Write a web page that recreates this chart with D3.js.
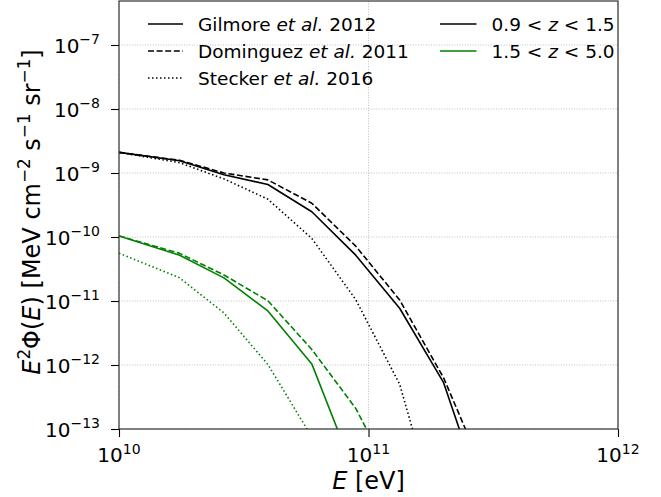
<!DOCTYPE html>
<html>
<head>
<meta charset="utf-8">
<script src="https://cdn.jsdelivr.net/npm/d3@7"></script>
<style>
  html, body { margin: 0; padding: 0; background: #fff; }
  svg { display: block; font-family: "DejaVu Sans", sans-serif; }
</style>
</head>
<body>
<svg id="chart" width="661" height="497"></svg>
<script>
// ---------------- data ----------------
const energies = [1e10, 1.75e10, 2.634e10, 3.951e10, 5.926e10, 8.889e10, 1.333e11, 2e11, 3e11];

const gilmoreLow    = [2.1e-9, 1.55e-9, 9.4e-10, 6.6e-10, 2.48e-10, 5.2e-11, 7.7e-12, 5.3e-13, 5e-15];
const dominguezLow  = [2.1e-9, 1.58e-9, 1.0e-9, 7.8e-10, 3.37e-10, 7.2e-11, 1.04e-11, 6.3e-13, 1.55e-14];
const steckerLow    = [2.1e-9, 1.45e-9, 8.1e-10, 3.9e-10, 9.5e-11, 1.05e-11, 5.0e-13, 2e-15];

const gilmoreHigh   = [1.04e-10, 5.2e-11, 2.3e-11, 7.0e-12, 1.04e-12, 1.85e-14];
const dominguezHigh = [1.04e-10, 5.55e-11, 2.55e-11, 1.01e-11, 1.75e-12, 2.1e-13, 1e-14];
const steckerHigh   = [5.6e-11, 2.3e-11, 6.5e-12, 1.02e-12, 7.5e-14];

const xTickExps = [10, 11, 12];
const yTickExps = [-13, -12, -11, -10, -9, -8, -7];

const modelLabels = [
  [{t: "Gilmore "}, {t: "et al.", i: true}, {t: " 2012"}],
  [{t: "Dominguez "}, {t: "et al.", i: true}, {t: " 2011"}],
  [{t: "Stecker "}, {t: "et al.", i: true}, {t: " 2016"}]
];
const zLabels = [
  [{t: "0.9 < "}, {t: "z", i: true}, {t: " < 1.5"}],
  [{t: "1.5 < "}, {t: "z", i: true}, {t: " < 5.0"}]
];

// ---------------- styles ----------------
const GREEN = "#008000";
const dashStyles = { solid: null, dashed: "6,2.6", dotted: "1.5,2.5" };

const series = [
  { vals: gilmoreLow,    color: "#000", style: "solid" },
  { vals: dominguezLow,  color: "#000", style: "dashed" },
  { vals: steckerLow,    color: "#000", style: "dotted" },
  { vals: gilmoreHigh,   color: GREEN,  style: "solid" },
  { vals: dominguezHigh, color: GREEN,  style: "dashed" },
  { vals: steckerHigh,   color: GREEN,  style: "dotted" }
];

// ---------------- layout ----------------
const L = 119, R = 618, T = 1, B = 429;
const svg = d3.select("#chart");

const x = d3.scaleLog().domain([1e10, 1e12]).range([L, R]);
const y = d3.scaleLog().domain([1e-13, Math.pow(10, -13 + (B - T) / 64)]).range([B, T]);

function rich(textSel, parts, size) {
  let shifted = false;
  const supShift = size * 0.42;
  parts.forEach(p => {
    const ts = textSel.append("tspan").text(p.t);
    if (p.i) ts.attr("font-style", "italic");
    if (p.sup) {
      ts.attr("font-size", size * 0.7).attr("dy", -supShift);
      shifted = true;
    } else if (shifted) {
      ts.attr("dy", supShift);
      shifted = false;
    }
  });
}

// grid
const gridG = svg.append("g");
xTickExps.forEach(e => {
  const v = Math.pow(10, e);
  gridG.append("line").attr("x1", x(v)).attr("x2", x(v)).attr("y1", T).attr("y2", B)
    .attr("stroke", "#b0b0b0").attr("stroke-width", 0.8).attr("stroke-dasharray", "1,1.6");
});
yTickExps.forEach(e => {
  const v = Math.pow(10, e);
  gridG.append("line").attr("x1", L).attr("x2", R).attr("y1", y(v)).attr("y2", y(v))
    .attr("stroke", "#b0b0b0").attr("stroke-width", 0.8).attr("stroke-dasharray", "1,1.6");
});

// clip
svg.append("clipPath").attr("id", "clip").append("rect")
  .attr("x", L).attr("y", T).attr("width", R - L).attr("height", B - T);

const line = d3.line().x(d => x(d[0])).y(d => y(d[1]));
const linesG = svg.append("g").attr("clip-path", "url(#clip)");
series.forEach(s => {
  const pts = s.vals.map((v, i) => [energies[i], v]);
  linesG.append("path").datum(pts).attr("d", line)
    .attr("fill", "none").attr("stroke", s.color).attr("stroke-width", 1.6)
    .attr("stroke-linejoin", "round")
    .attr("stroke-dasharray", dashStyles[s.style]);
});

// axes
const xMinor = [];
[1e10, 1e11].forEach(b => { for (let k = 2; k <= 9; k++) xMinor.push(b * k); });
const yMinor = [];
yTickExps.slice(0, -1).forEach(e => { for (let k = 2; k <= 9; k++) yMinor.push(Math.pow(10, e) * k); });
for (let k = 2; k <= 4; k++) yMinor.push(1e-7 * k);

const axX = svg.append("g").attr("transform", `translate(0,${B})`);
axX.call(d3.axisBottom(x).tickValues(xMinor).tickSize(4.5).tickFormat(""));
axX.call(d3.axisBottom(x).tickValues(xTickExps.map(e => Math.pow(10, e))).tickSize(8).tickFormat(""));
axX.selectAll(".domain").remove();
axX.selectAll("line").attr("stroke", "#000").attr("stroke-width", 1.1);

const axY = svg.append("g").attr("transform", `translate(${L},0)`);
axY.call(d3.axisLeft(y).tickValues(yMinor.filter(v => y(v) >= T)).tickSize(4.5).tickFormat(""));
axY.call(d3.axisLeft(y).tickValues(yTickExps.map(e => Math.pow(10, e))).tickSize(8).tickFormat(""));
axY.selectAll(".domain").remove();
axY.selectAll("line").attr("stroke", "#000").attr("stroke-width", 1.1);

// frame
svg.append("rect").attr("x", L).attr("y", T).attr("width", R - L).attr("height", B - T)
  .attr("fill", "none").attr("stroke", "#333").attr("stroke-width", 1.2);

// tick labels
const TICK_FS = 20;
xTickExps.forEach(e => {
  const t = svg.append("text").attr("x", x(Math.pow(10, e))).attr("y", 462)
    .attr("text-anchor", "middle").attr("font-size", TICK_FS).attr("fill", "#000");
  rich(t, [{t: "10"}, {t: String(e), sup: true}], TICK_FS);
});
yTickExps.forEach(e => {
  const t = svg.append("text").attr("x", 100).attr("y", y(Math.pow(10, e)) + 7.5)
    .attr("text-anchor", "end").attr("font-size", TICK_FS).attr("fill", "#000");
  rich(t, [{t: "10"}, {t: "\u2212" + Math.abs(e), sup: true}], TICK_FS);
});

// axis labels
const LAB_FS = 24;
const xl = svg.append("text").attr("x", (L + R) / 2).attr("y", 489)
  .attr("text-anchor", "middle").attr("font-size", LAB_FS).attr("fill", "#000");
rich(xl, [{t: "E", i: true}, {t: " [eV]"}], LAB_FS);

const yl = svg.append("text").attr("transform", "translate(40,212) rotate(-90)")
  .attr("text-anchor", "middle").attr("font-size", LAB_FS).attr("fill", "#000");
rich(yl, [{t: "E", i: true}, {t: "2", sup: true}, {t: "\u03A6("}, {t: "E", i: true},
          {t: ") [MeV cm"}, {t: "\u22122", sup: true}, {t: " s"}, {t: "\u22121", sup: true},
          {t: " sr"}, {t: "\u22121", sup: true}, {t: "]"}], LAB_FS);

// legend
const LEG_FS = 18.5;
const legRows = [24, 51, 78];
const modelStyles = ["solid", "dashed", "dotted"];
modelLabels.forEach((parts, i) => {
  svg.append("line").attr("x1", 148).attr("x2", 183).attr("y1", legRows[i]).attr("y2", legRows[i])
    .attr("stroke", "#000").attr("stroke-width", 1.6).attr("stroke-dasharray", dashStyles[modelStyles[i]]);
  const t = svg.append("text").attr("x", 198).attr("y", legRows[i] + 6.8)
    .attr("font-size", LEG_FS).attr("fill", "#000");
  rich(t, parts, LEG_FS);
});
const zColors = ["#000", GREEN];
zLabels.forEach((parts, i) => {
  svg.append("line").attr("x1", 440).attr("x2", 476.5).attr("y1", legRows[i]).attr("y2", legRows[i])
    .attr("stroke", zColors[i]).attr("stroke-width", 1.6);
  const t = svg.append("text").attr("x", 491.5).attr("y", legRows[i] + 6.8)
    .attr("font-size", LEG_FS).attr("fill", "#000");
  rich(t, parts, LEG_FS);
});
</script>
</body>
</html>
